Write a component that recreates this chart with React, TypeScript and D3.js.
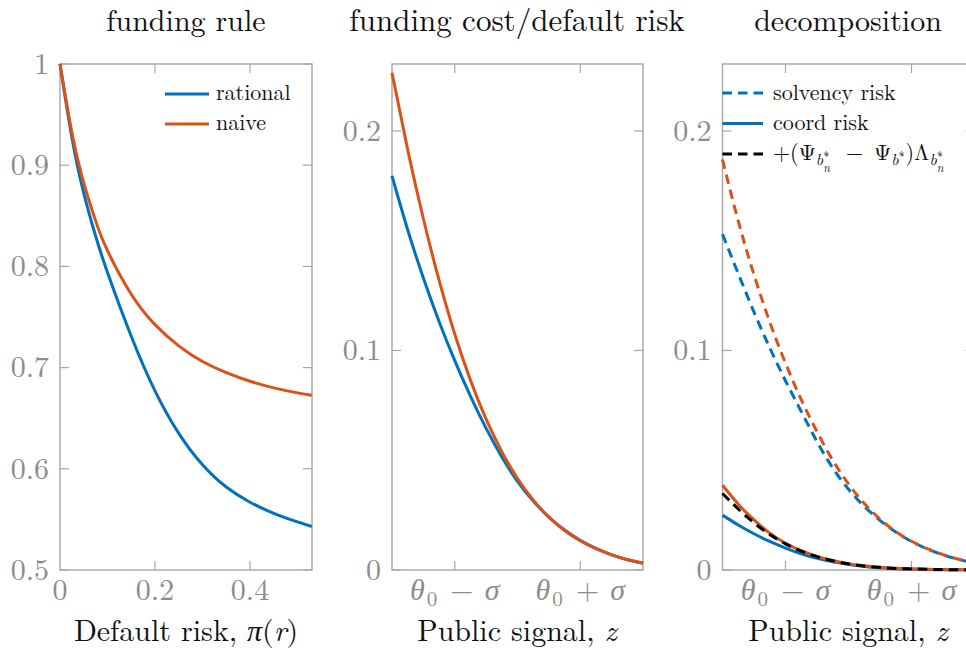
import { useEffect, useRef } from 'react'
import * as d3 from 'd3'

// panel 1: funding rule vs default risk
const riskGrid = [0, 0.025, 0.05, 0.075, 0.1, 0.15, 0.2, 0.25, 0.3, 0.35, 0.4, 0.45, 0.5, 0.53]
const rationalRule = [1.0, 0.9275, 0.8725, 0.83, 0.794, 0.731, 0.677, 0.635, 0.604, 0.582, 0.567, 0.556, 0.5475, 0.543]
const naiveRule = [1.0, 0.9325, 0.8825, 0.845, 0.8155, 0.7725, 0.7425, 0.7215, 0.706, 0.695, 0.6865, 0.68, 0.675, 0.6726]

// panels 2 and 3: public signal z, in units of sigma around theta0
const signalGrid = [-2, -1.75, -1.5, -1.25, -1, -0.75, -0.5, -0.25, 0, 0.25, 0.5, 0.75, 1, 1.25, 1.5, 1.75, 2]
const rationalCost = [0.1795, 0.155, 0.133, 0.1132, 0.0954, 0.0792, 0.0645, 0.0515, 0.0404, 0.0314, 0.0241, 0.0182, 0.0135, 0.0098, 0.0069, 0.0047, 0.0031]
const naiveCost = [0.2265, 0.1915, 0.16, 0.132, 0.1075, 0.0865, 0.0687, 0.0539, 0.0417, 0.0319, 0.0241, 0.018, 0.0133, 0.0097, 0.0069, 0.0048, 0.0032]
const solvencyRational = [0.153, 0.135, 0.1175, 0.1012, 0.0862, 0.0722, 0.0585, 0.0465, 0.0368, 0.029, 0.0226, 0.0173, 0.013, 0.0096, 0.0069, 0.0048, 0.0032]
const solvencyNaive = [0.187, 0.159, 0.1345, 0.113, 0.0942, 0.0776, 0.063, 0.05, 0.0392, 0.0303, 0.0232, 0.0175, 0.0131, 0.0097, 0.007, 0.0049, 0.0033]
const coordRational = [0.025, 0.0205, 0.0165, 0.013, 0.01, 0.0074, 0.0053, 0.0037, 0.0025, 0.0016, 0.001, 0.0006, 0.0004, 0.0002, 0.0001, 0.0001, 0.0]
const coordNaive = [0.0386, 0.03, 0.0228, 0.0168, 0.0122, 0.0088, 0.0062, 0.0043, 0.0029, 0.0019, 0.0012, 0.0008, 0.0005, 0.0003, 0.0002, 0.0001, 0.0001]
const coordAdjusted = [0.0349, 0.0278, 0.0215, 0.0162, 0.0119, 0.0086, 0.0061, 0.0042, 0.0028, 0.0018, 0.0012, 0.0007, 0.0005, 0.0003, 0.0002, 0.0001, 0.0001]

const riskTicks = [0, 0.2, 0.4]
const ruleTicks = [0.5, 0.6, 0.7, 0.8, 0.9, 1]
const costTicks = [0, 0.1, 0.2]
const signalTicks = [-1, 1]
const signalTickOps = ['\u2212', '+']

const BLUE = '#0072bd'
const ORANGE = '#d95319'
const FRAME = '#a6a6a6'
const TICK_TEXT = '#8c8c8c'
const FONT = '"Latin Modern Roman", "Liberation Serif", serif'

const TOP = 64
const BOTTOM = 570

type Sel = d3.Selection<SVGGElement, unknown, null, undefined>
type Txt = d3.Selection<SVGTextElement, unknown, null, undefined>

function drawFrame(g: Sel, x: d3.ScaleLinear<number, number>, y: d3.ScaleLinear<number, number>, xTicks: number[], yTicks: number[]) {
  const [x0, x1] = x.range()
  const [y0, y1] = y.range()
  const tl = 9
  g.append('rect')
    .attr('x', x0).attr('y', y1)
    .attr('width', x1 - x0).attr('height', y0 - y1)
    .attr('fill', 'none').attr('stroke', FRAME).attr('stroke-width', 1.4)
  xTicks.forEach(t => {
    const px = x(t)
    g.append('line').attr('x1', px).attr('x2', px).attr('y1', y0).attr('y2', y0 - tl)
      .attr('stroke', FRAME).attr('stroke-width', 1.2)
    g.append('line').attr('x1', px).attr('x2', px).attr('y1', y1).attr('y2', y1 + tl)
      .attr('stroke', FRAME).attr('stroke-width', 1.2)
  })
  yTicks.forEach(t => {
    const py = y(t)
    g.append('line').attr('x1', x0).attr('x2', x0 + tl).attr('y1', py).attr('y2', py)
      .attr('stroke', FRAME).attr('stroke-width', 1.2)
    g.append('line').attr('x1', x1).attr('x2', x1 - tl).attr('y1', py).attr('y2', py)
      .attr('stroke', FRAME).attr('stroke-width', 1.2)
  })
  // y tick labels
  yTicks.forEach(t => {
    g.append('text')
      .attr('x', x0 - 11).attr('y', y(t) + 9.7)
      .attr('text-anchor', 'end')
      .attr('font-size', 30).attr('fill', TICK_TEXT)
      .text(String(t))
  })
}

function signalLabels(g: Sel, x: d3.ScaleLinear<number, number>) {
  signalTicks.forEach((t, i) => {
    const txt = g.append('text')
      .attr('x', x(t)).attr('y', 600)
      .attr('text-anchor', 'middle')
      .attr('font-size', 30).attr('fill', TICK_TEXT)
    txt.append('tspan').attr('font-style', 'italic').text('θ')
    txt.append('tspan').attr('font-size', 21).attr('dx', 2).attr('dy', 6).text('0')
    txt.append('tspan').attr('dy', -6).attr('dx', 3).text(`\u2004${signalTickOps[i]}\u2004`)
    txt.append('tspan').attr('font-style', 'italic').attr('dx', 1).text('σ')
  })
}

function subStar(txt: Txt, base: number, withN: boolean) {
  txt.append('tspan').attr('y', base + 5).attr('font-size', 16).attr('font-style', 'italic').text('b')
  txt.append('tspan').attr('y', base - 3).attr('font-size', 12).text('∗')
  if (withN) {
    txt.append('tspan').attr('y', base + 12).attr('dx', -6).attr('font-size', 12).attr('font-style', 'italic').text('n')
  }
}

export default function App() {
  const svgRef = useRef<SVGSVGElement>(null)

  useEffect(() => {
    if (!svgRef.current) return
    const svg = d3.select(svgRef.current)
    svg.selectAll('*').remove()
    const root = svg.append('g').style('font-family', FONT) as Sel

    const line = (xs: number[], ys: number[], x: d3.ScaleLinear<number, number>, y: d3.ScaleLinear<number, number>) =>
      d3.line<number>()
        .x((_, i) => x(xs[i]))
        .y(d => y(d))
        .curve(d3.curveNatural)(ys)

    const addCurve = (g: Sel, d: string | null, color: string, dashed = false) => {
      g.append('path')
        .attr('d', d)
        .attr('fill', 'none')
        .attr('stroke', color)
        .attr('stroke-width', 3)
        .attr('stroke-dasharray', dashed ? '9.5,6' : null)
    }

    const bigText = (cx: number, y: number, size = 30) =>
      root.append('text').attr('x', cx).attr('y', y)
        .attr('text-anchor', 'middle').attr('font-size', size)
        .attr('fill', '#111')

    // ---------- panel 1 ----------
    const x1 = d3.scaleLinear().domain([0, 0.5305]).range([60, 312])
    const y1 = d3.scaleLinear().domain([0.5, 1]).range([BOTTOM, TOP])
    const g1 = root.append('g') as Sel
    drawFrame(g1, x1, y1, riskTicks.slice(1), ruleTicks)
    riskTicks.forEach(t => {
      g1.append('text').attr('x', x1(t)).attr('y', 600)
        .attr('text-anchor', 'middle').attr('font-size', 30)
        .attr('fill', TICK_TEXT)
        .text(String(t))
    })
    addCurve(g1, line(riskGrid, rationalRule, x1, y1), BLUE)
    addCurve(g1, line(riskGrid, naiveRule, x1, y1), ORANGE)
    // legend
    const leg1 = [{ label: 'rational', color: BLUE }, { label: 'naive', color: ORANGE }]
    leg1.forEach((l, i) => {
      const ly = 94 + i * 30
      g1.append('line').attr('x1', 165).attr('x2', 209).attr('y1', ly).attr('y2', ly)
        .attr('stroke', l.color).attr('stroke-width', 3)
      g1.append('text').attr('x', 216).attr('y', ly + 6).attr('font-size', 22)
        .attr('fill', '#111').text(l.label)
    })
    bigText(186, 31).text('funding rule')
    const at1 = bigText(186, 641)
    at1.append('tspan').text('Default risk, ')
    at1.append('tspan').attr('font-style', 'italic').text('π')
    at1.append('tspan').text('(')
    at1.append('tspan').attr('font-style', 'italic').text('r')
    at1.append('tspan').text(')')

    // ---------- panel 2 ----------
    const x2 = d3.scaleLinear().domain([-2, 2]).range([392, 643])
    const y2 = d3.scaleLinear().domain([0, 0.2305]).range([BOTTOM, TOP])
    const g2 = root.append('g') as Sel
    drawFrame(g2, x2, y2, signalTicks, costTicks)
    signalLabels(g2, x2)
    addCurve(g2, line(signalGrid, rationalCost, x2, y2), BLUE)
    addCurve(g2, line(signalGrid, naiveCost, x2, y2), ORANGE)
    bigText(517, 31, 31).text('funding cost/default risk')
    const at2 = bigText(517, 641)
    at2.append('tspan').text('Public signal, ')
    at2.append('tspan').attr('font-style', 'italic').text('z')

    // ---------- panel 3 ----------
    const x3 = d3.scaleLinear().domain([-2, 2]).range([722.5, 974.5])
    const y3 = d3.scaleLinear().domain([0, 0.2305]).range([BOTTOM, TOP])
    const g3 = root.append('g') as Sel
    drawFrame(g3, x3, y3, signalTicks, costTicks)
    signalLabels(g3, x3)
    addCurve(g3, line(signalGrid, solvencyRational, x3, y3), BLUE, true)
    addCurve(g3, line(signalGrid, solvencyNaive, x3, y3), ORANGE, true)
    addCurve(g3, line(signalGrid, coordRational, x3, y3), BLUE)
    addCurve(g3, line(signalGrid, coordNaive, x3, y3), ORANGE)
    addCurve(g3, line(signalGrid, coordAdjusted, x3, y3), '#000', true)

    // legend
    const legX0 = 722.5
    const legX1 = 763
    const legItems = [
      { color: BLUE, dashed: true },
      { color: BLUE, dashed: false },
      { color: '#000', dashed: true }
    ]
    legItems.forEach((l, i) => {
      const ly = 93 + i * 30.5
      g3.append('line').attr('x1', legX0).attr('x2', legX1).attr('y1', ly).attr('y2', ly)
        .attr('stroke', l.color).attr('stroke-width', 3)
        .attr('stroke-dasharray', l.dashed ? '9.5,6' : null)
    })
    g3.append('text').attr('x', 773).attr('y', 99.5).attr('font-size', 22)
      .attr('fill', '#111').text('solvency risk')
    g3.append('text').attr('x', 773).attr('y', 130).attr('font-size', 22)
      .attr('fill', '#111').text('coord risk')
    const base = 160
    const f = g3.append('text').attr('x', 773).attr('y', base).attr('font-size', 22).attr('fill', '#111') as Txt
    f.append('tspan').text('+(Ψ')
    subStar(f, base, true)
    f.append('tspan').attr('y', base).attr('dx', 5).text('\u2002\u2212\u2002Ψ')
    subStar(f, base, false)
    f.append('tspan').attr('y', base).attr('dx', 1).text(')Λ')
    subStar(f, base, true)

    bigText(848, 31).text('decomposition')
    const at3 = bigText(848, 641)
    at3.append('tspan').text('Public signal, ')
    at3.append('tspan').attr('font-style', 'italic').text('z')
  }, [])

  return (
    <svg
      ref={svgRef}
      width={966}
      height={650}
      style={{ position: 'absolute', left: 0, top: 0, background: '#fff' }}
    ></svg>
  )
}
